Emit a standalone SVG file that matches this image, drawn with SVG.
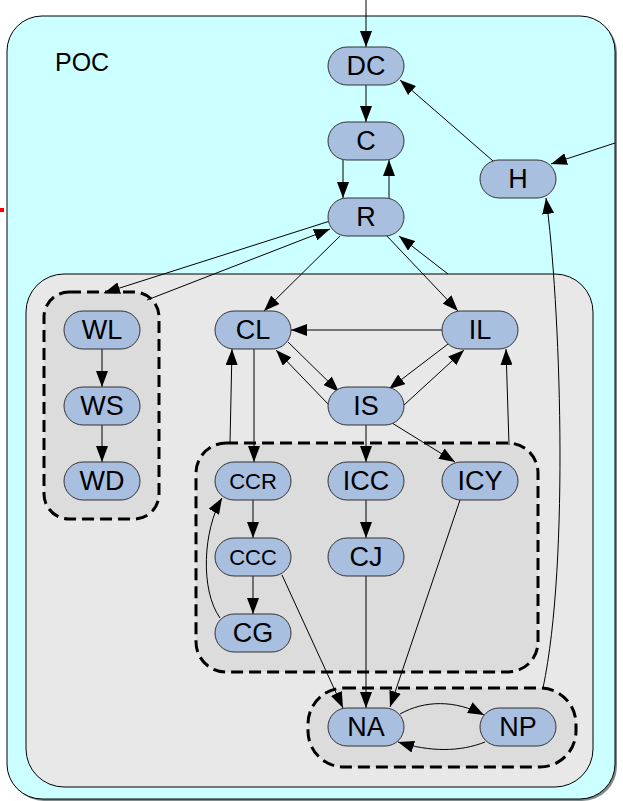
<svg xmlns="http://www.w3.org/2000/svg" width="623" height="801" viewBox="0 0 623 801">
  <style>
    .node rect { fill: #a8bfe0; stroke: #333333; stroke-width: 1; }
    .node text { font-family: "Liberation Sans", Arial, sans-serif; font-size: 27px; fill: #000000; text-anchor: middle; }
    .node text.small { font-size: 22px; }
    .cluster { fill: #dcdcdc; stroke: #000000; stroke-width: 3; stroke-dasharray: 12 6; }
    .edges path { fill: none; stroke: #000000; stroke-width: 1; marker-end: url(#arrow); }
  </style>
  <defs>
    <marker id="arrow" viewBox="0 0 16 12" refX="16" refY="6" markerWidth="16" markerHeight="12" markerUnits="userSpaceOnUse" orient="auto">
      <path d="M0,0 L16,6 L0,12 z" fill="#000000"/>
    </marker>
  </defs>

  <!-- stray mark at left edge -->
  <rect x="0" y="208" width="4" height="4" fill="#ff0000"/>

  <!-- POC container -->
  <g id="POC">
    <rect x="9" y="18" width="608" height="783" rx="35" fill="#7f8a8a"/>
    <rect x="7" y="16" width="608" height="783" rx="35" fill="#ccffff" stroke="#000000" stroke-width="1"/>
    <text x="55" y="71" font-family="Liberation Sans, Arial, sans-serif" font-size="25">POC</text>
  </g>

  <!-- inner grey region -->
  <g id="inner">
    <rect x="26" y="274" width="567" height="513" rx="38" fill="#e8e8e8" stroke="#000000" stroke-width="1"/>
  </g>

  <!-- dashed sub-clusters -->
  <g id="clusterW"><rect class="cluster" x="44" y="292" width="115" height="227" rx="25"/></g>
  <g id="clusterC"><rect class="cluster" x="196" y="443" width="342" height="229" rx="30"/></g>
  <g id="clusterN"><rect class="cluster" x="308" y="688" width="268" height="79" rx="36"/></g>

  <!-- connectors -->
  <g class="edges">
    <path d="M366,0 L366,47"/>
    <path d="M366,85 L366,122"/>
    <path d="M343,160 L343,198"/>
    <path d="M389,198 L389,160"/>
    <path d="M493,161 L400,80"/>
    <path d="M615,143 L551,164"/>
    <path d="M330,221 L104,293"/>
    <path d="M147,300 L330,229"/>
    <path d="M340,236 L264,311"/>
    <path d="M386,235 L458,311"/>
    <path d="M448,274 L399,236"/>
    <path d="M102,349 L102,387"/>
    <path d="M102,425 L102,462"/>
    <path d="M442,330 L291,330"/>
    <path d="M288,342 L339,392"/>
    <path d="M329,405 L276,350"/>
    <path d="M448,344 L389,389"/>
    <path d="M404,405 L464,350"/>
    <path d="M366,425 L366,462"/>
    <path d="M392,423 L455,462"/>
    <path d="M509,445 L506,349"/>
    <path d="M254,349 L254,462"/>
    <path d="M230,443 L232,349"/>
    <path d="M253,500 L253,538"/>
    <path d="M253,576 L253,614"/>
    <path d="M220,618 C200,590 203,530 222,498"/>
    <path d="M366,500 L366,538"/>
    <path d="M366,576 L366,708"/>
    <path d="M282,575 L343,708"/>
    <path d="M460,500 L390,707"/>
    <path d="M400,714 C425,700 455,700 484,715"/>
    <path d="M485,742 C460,752 430,752 398,742"/>
    <path d="M543,688 C570,560 560,300 546,198"/>
  </g>

  <!-- nodes -->
  <g id="DC" class="node"><rect x="328" y="47" width="76" height="38" rx="19"/><text x="366" y="75">DC</text></g>
  <g id="C" class="node"><rect x="328" y="122" width="76" height="38" rx="19"/><text x="366" y="150">C</text></g>
  <g id="R" class="node"><rect x="328" y="198" width="76" height="38" rx="19"/><text x="366" y="226">R</text></g>
  <g id="H" class="node"><rect x="480" y="160" width="76" height="38" rx="19"/><text x="518" y="188">H</text></g>
  <g id="WL" class="node"><rect x="64" y="311" width="76" height="38" rx="19"/><text x="102" y="339">WL</text></g>
  <g id="WS" class="node"><rect x="64" y="387" width="76" height="38" rx="19"/><text x="102" y="415">WS</text></g>
  <g id="WD" class="node"><rect x="64" y="462" width="76" height="38" rx="19"/><text x="102" y="490">WD</text></g>
  <g id="CL" class="node"><rect x="215" y="311" width="76" height="38" rx="19"/><text x="253" y="339">CL</text></g>
  <g id="IL" class="node"><rect x="442" y="311" width="76" height="38" rx="19"/><text x="480" y="339">IL</text></g>
  <g id="IS" class="node"><rect x="328" y="387" width="76" height="38" rx="19"/><text x="366" y="415">IS</text></g>
  <g id="CCR" class="node"><rect x="215" y="462" width="76" height="38" rx="19"/><text class="small" x="253" y="489">CCR</text></g>
  <g id="ICC" class="node"><rect x="328" y="462" width="76" height="38" rx="19"/><text x="366" y="490">ICC</text></g>
  <g id="ICY" class="node"><rect x="442" y="462" width="76" height="38" rx="19"/><text x="480" y="490">ICY</text></g>
  <g id="CCC" class="node"><rect x="215" y="538" width="76" height="38" rx="19"/><text class="small" x="253" y="565">CCC</text></g>
  <g id="CJ" class="node"><rect x="328" y="538" width="76" height="38" rx="19"/><text x="366" y="566">CJ</text></g>
  <g id="CG" class="node"><rect x="215" y="614" width="76" height="38" rx="19"/><text x="253" y="642">CG</text></g>
  <g id="NA" class="node"><rect x="328" y="708" width="76" height="38" rx="19"/><text x="366" y="736">NA</text></g>
  <g id="NP" class="node"><rect x="480" y="708" width="76" height="38" rx="19"/><text x="518" y="736">NP</text></g>
</svg>
